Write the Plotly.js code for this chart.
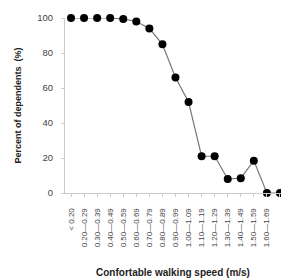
<!DOCTYPE html>
<html><head><meta charset="utf-8">
<script src="https://cdn.plot.ly/plotly-3.0.1.min.js"></script>
<style>html,body{margin:0;padding:0;background:#fff}#chart{width:281px;height:278px}</style>
</head><body><div id="chart"></div>
<script>
const categories = ["< 0.20","0.20\u20140.29","0.30\u20140.39","0.40\u20140.49","0.50\u20140.59","0.60\u20140.69","0.70\u20140.79","0.80\u20140.89","0.90\u20140.99","1.00\u20141.09","1.10\u20141.19","1.20\u20141.29","1.30\u20141.39","1.40\u20141.49","1.50\u20141.59","1.60\u20141.69","\u2265 1.70"];
const percentDependents = [100,100,100,100,99.5,98,94,85,66,52,21,21,8,8.5,18.5,0,0];
const yTicks = [0,20,40,60,80,100];

const trace = {
  x: categories.map((c,i)=>i),
  y: percentDependents,
  type: 'scatter',
  mode: 'lines+markers',
  line: {color: '#777', width: 1.2},
  marker: {color: '#000', size: 8},
  cliponaxis: false,
  hoverinfo: 'skip'
};
const layout = {
  width: 281, height: 278,
  margin: {l: 65, r: 0, t: 18, b: 85},
  paper_bgcolor: '#fff', plot_bgcolor: '#fff',
  showlegend: false,
  font: {family: 'Liberation Sans, Arial, sans-serif', color: '#333'},
  xaxis: {
    range: [-0.46, 16.08],
    tickmode: 'array',
    tickvals: categories.map((c,i)=>i),
    ticktext: categories,
    tickangle: -90,
    tickfont: {size: 8, color: '#444'},
    showgrid: false, zeroline: false,
    showline: true, linecolor: '#ccc', linewidth: 1,
    ticks: 'outside', ticklen: 3, tickcolor: '#ccc',
    ticklabelstandoff: 8,
    automargin: false,
    title: {text: '<b>Confortable walking speed (m/s)</b>', font: {size: 10, color: '#222'}, standoff: 24}
  },
  yaxis: {
    range: [0, 100],
    tickmode: 'array',
    tickvals: yTicks,
    ticktext: yTicks.map(String),
    tickfont: {size: 9.5, color: '#444'},
    showgrid: false, zeroline: false,
    showline: true, linecolor: '#ccc', linewidth: 1,
    ticks: 'outside', ticklen: 3, tickcolor: '#ccc',
    ticklabelstandoff: 6,
    automargin: false,
    title: {text: '<b>Percent of dependents  (%)</b>', font: {size: 9, color: '#222'}, standoff: 14}
  }
};
Plotly.newPlot('chart', [trace], layout, {staticPlot: true, displayModeBar: false});
</script></body></html>
